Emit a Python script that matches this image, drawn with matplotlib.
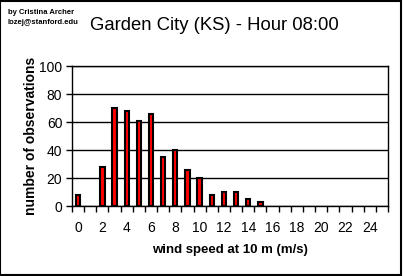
import numpy as np
import matplotlib
matplotlib.use("Agg")
import matplotlib.pyplot as plt

plt.rcParams['font.family'] = ['Liberation Sans', 'DejaVu Sans']

# wind speed bins (m/s) and counts
speeds = np.arange(26)
counts = np.array([8, 0, 28, 70, 68, 61, 66, 35, 40, 26, 20, 8, 10, 10, 5, 3,
                   0, 0, 0, 0, 0, 0, 0, 0, 0, 0])
tick_labels = [str(s) for s in range(0, 25, 2)]

title = "Garden City (KS) - Hour 08:00"
author = "by Cristina Archer\nlozej@stanford.edu"

fig = plt.figure(figsize=(4.03, 2.76), dpi=100)
ax = fig.add_axes([72 / 403, 1 - 206 / 276, 316 / 403, 140 / 276])

# empty bins get no bar at all
nz = counts > 0
ax.bar(speeds[nz], counts[nz], width=0.36, color='red', edgecolor='black',
       linewidth=1.5, zorder=3)

ax.set_xlim(-0.5, 25.5)
ax.set_ylim(0, 100)
ax.set_yticks(np.arange(0, 101, 20))
ax.grid(axis='y', color='black', linewidth=1.0, zorder=1)

ax.set_xticks(np.arange(0, 25, 2))
ax.set_xticklabels(tick_labels)
ax.set_xticks(np.arange(-0.5, 26, 1), minor=True)
ax.tick_params(axis='x', which='major', length=0, pad=11, labelsize=10)
ax.tick_params(axis='x', which='minor', length=4, width=1.0, direction='out')
ax.tick_params(axis='y', length=4, width=1.0, pad=3, labelsize=10)

for s in ax.spines.values():
    s.set_linewidth(1.0)
    s.set_color('black')

ax.set_xlabel("wind speed at 10 m (m/s)", fontsize=9.5, fontweight='bold',
              labelpad=6)
ax.set_ylabel("number of observations", fontsize=10, fontweight='bold',
              labelpad=1)

fig.text(90 / 403, 1 - 25 / 276, title, fontsize=13.3, va='center', ha='left')
fig.text(8 / 403, 1 - 18 / 276, author, fontsize=5.5, fontweight='bold',
         va='center', ha='left', linespacing=1.6)

# frame around the whole picture
fig.patches.append(plt.Rectangle((0.001, 0.003), 0.995, 0.995,
                                 transform=fig.transFigure, fill=False,
                                 edgecolor='black', linewidth=1.5))

fig.savefig("out.png", dpi=100)
